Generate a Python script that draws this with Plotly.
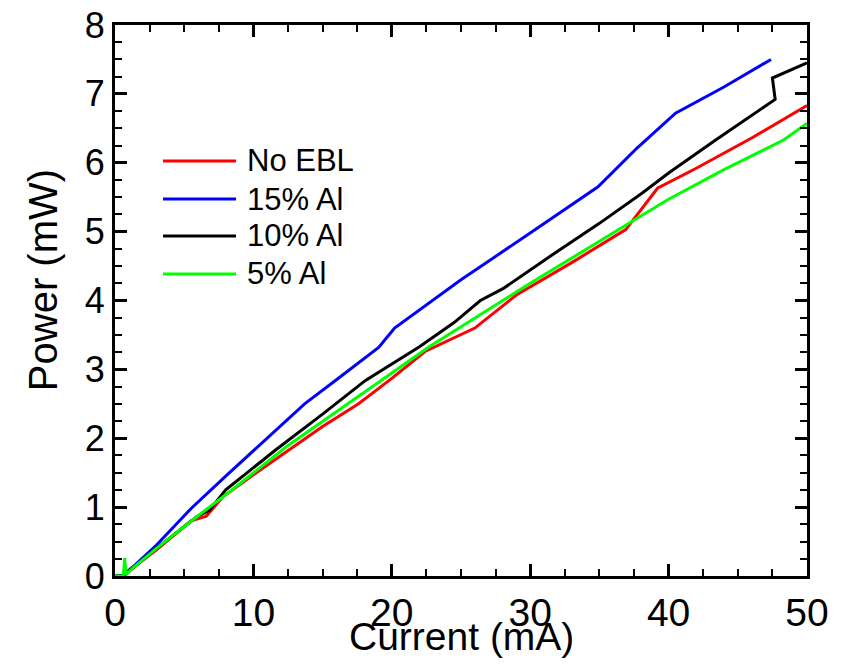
import plotly.graph_objects as go

# Data
red_I = [0, 0.5, 0.8, 1.5, 3, 5.5, 6.6, 7.8, 10, 12.6, 15, 17.6, 20, 22.4, 26, 29, 33, 36.9, 39.2, 42, 46, 50]
red_P = [0, 0, 0.03, 0.15, 0.38, 0.8, 0.87, 1.15, 1.47, 1.83, 2.17, 2.5, 2.87, 3.26, 3.6, 4.08, 4.55, 5.03, 5.63, 5.92, 6.36, 6.83]

blue_I = [0, 0.5, 0.8, 1.5, 3, 5.5, 8, 11, 13.7, 16, 19.05, 20.2, 25, 30, 34.9, 37.7, 40.5, 44, 47.4]
blue_P = [0, 0, 0.05, 0.17, 0.45, 0.98, 1.45, 2.0, 2.5, 2.85, 3.32, 3.6, 4.3, 4.98, 5.65, 6.21, 6.72, 7.1, 7.5]

black_I = [0, 0.5, 0.8, 1.5, 3, 5.9, 6.8, 8.0, 11.6, 15, 18.1, 22, 24.5, 26.4, 28.1, 31.5, 35, 38.1, 40, 43.4, 47.7, 47.5, 50]
black_P = [0, 0, 0.04, 0.15, 0.4, 0.86, 0.95, 1.25, 1.83, 2.35, 2.84, 3.33, 3.68, 4.0, 4.18, 4.65, 5.12, 5.56, 5.85, 6.33, 6.92, 7.23, 7.45]

green_I = [0, 0.3, 0.6, 0.7, 0.8, 1.3, 3, 6.1, 8, 12.4, 15, 19.1, 22.7, 26, 30, 35, 39.9, 44, 48.3, 50]
green_P = [0, 0, 0, 0.26, 0.02, 0.12, 0.4, 0.89, 1.18, 1.88, 2.24, 2.82, 3.33, 3.75, 4.25, 4.86, 5.46, 5.9, 6.33, 6.57]

names = ["No EBL", "15% Al", "10% Al", "5% Al"]
colors = ["#FF0000", "#0000FF", "#000000", "#00FF00"]
series = [(red_I, red_P), (blue_I, blue_P), (black_I, black_P), (green_I, green_P)]

FONT = "Liberation Sans, Arial, sans-serif"

fig = go.Figure()
for name, color, (xs, ys) in zip(names, colors, series):
    fig.add_trace(go.Scatter(x=xs, y=ys, mode="lines", name=name, showlegend=False,
                             line=dict(color=color, width=3)))

axis_common = dict(
    showline=True, linecolor="black", linewidth=3, mirror="ticks",
    ticks="inside", ticklen=12, tickwidth=2.5, tickcolor="black",
    showgrid=False, zeroline=False, automargin=False, ticklabeloverflow="allow",
    minor=dict(ticks="inside", ticklen=7, tickwidth=2, tickcolor="black", showgrid=False),
)

fig.update_xaxes(range=[0, 50], dtick=10, tick0=0, **axis_common)
fig.update_xaxes(minor_dtick=2.5, tickfont=dict(family=FONT, size=39, color="black"))
fig.update_yaxes(range=[0, 8], dtick=1, tick0=0, **axis_common)
fig.update_yaxes(minor_dtick=0.25, tickfont=dict(family=FONT, size=36, color="black"))

# Axis titles
fig.add_annotation(text="Current (mA)", xref="paper", yref="paper", x=0.5, y=-0.11,
                   xanchor="center", yanchor="middle", showarrow=False,
                   font=dict(family=FONT, size=39, color="black"))
fig.add_annotation(text="Power (mW)", xref="paper", yref="paper", x=-0.104, y=0.537,
                   xanchor="center", yanchor="middle", showarrow=False, textangle=-90,
                   font=dict(family=FONT, size=40, color="black"))

# Legend (drawn to match the reference's long legend lines)
leg_y = [0.7532, 0.6842, 0.6171, 0.5481]
for name, color, ly in zip(names, colors, leg_y):
    fig.add_shape(type="line", xref="paper", yref="paper", x0=0.0694, x1=0.1749, y0=ly, y1=ly,
                  line=dict(color=color, width=3))
    fig.add_annotation(text=name, xref="paper", yref="paper", x=0.1879, y=ly,
                       xanchor="left", yanchor="middle", showarrow=False,
                       font=dict(family=FONT, size=31, color="black"))

# The page body has an 8px margin, so the figure is sized/offset to compensate
fig.update_layout(
    width=830, height=651,
    margin=dict(l=107, r=31, t=17, b=83),
    plot_bgcolor="white", paper_bgcolor="white",
    showlegend=False,
)

fig.write_html("out.html")
